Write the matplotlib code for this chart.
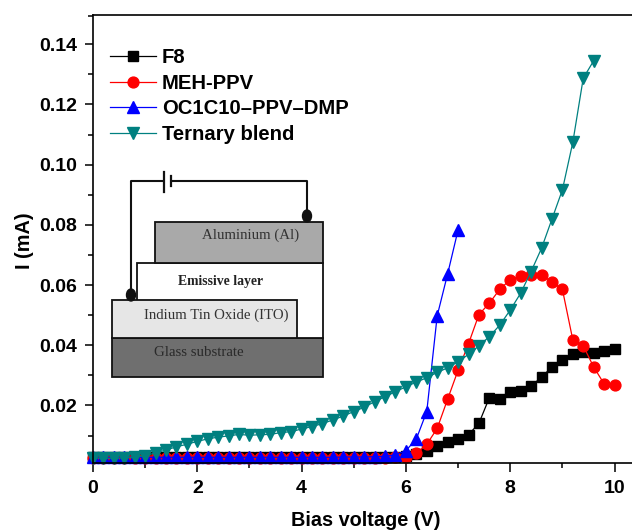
import matplotlib
matplotlib.use('Agg')
import matplotlib.pyplot as plt
from matplotlib.patches import Rectangle, Ellipse

plt.rcParams['font.family'] = ['Liberation Sans', 'DejaVu Sans']

voltage = [0.0, 0.2, 0.4, 0.6, 0.8, 1.0, 1.2, 1.4, 1.6, 1.8,
           2.0, 2.2, 2.4, 2.6, 2.8, 3.0, 3.2, 3.4, 3.6, 3.8,
           4.0, 4.2, 4.4, 4.6, 4.8, 5.0, 5.2, 5.4, 5.6, 5.8,
           6.0, 6.2, 6.4, 6.6, 6.8, 7.0, 7.2, 7.4, 7.6, 7.8,
           8.0, 8.2, 8.4, 8.6, 8.8, 9.0, 9.2, 9.4, 9.6, 9.8, 10.0]

f8 = [.0028, .0028, .0028, .0028, .0028, .0028, .0028, .0028, .0028, .0028,
      .0028, .0028, .0028, .0028, .0028, .0028, .0028, .0028, .0028, .0028,
      .0028, .0028, .0028, .0028, .0028, .0028, .0028, .0029, .0029, .0030,
      .0031, .0039, .0050, .0065, .0078, .0090, .0103, .0141, .0226, .0223,
      .0244, .0247, .0265, .0294, .0328, .0350, .0372, .0378, .0374, .0381, .0388]

meh_ppv = [.0025, .0025, .0025, .0025, .0025, .0025, .0025, .0025, .0025, .0025,
           .0025, .0025, .0025, .0025, .0025, .0025, .0025, .0025, .0025, .0025,
           .0025, .0025, .0025, .0025, .0025, .0025, .0025, .0026, .0026, .0028,
           .0030, .0041, .0071, .0124, .0221, .0317, .0405, .0502, .0540, .0586,
           .0618, .0630, .0634, .0634, .0610, .0586, .0418, .0398, .0328, .0272, .0269]

oc1c10 = [.0028, .0028, .0028, .0028, .0028, .0028, .0028, .0028, .0028, .0028,
          .0028, .0028, .0028, .0028, .0028, .0028, .0028, .0028, .0028, .0028,
          .0028, .0028, .0028, .0028, .0029, .0029, .0029, .0030, .0031, .0036,
          .0050, .0089, .0180, .0498, .0637, .0783]

ternary = [.0026, .0025, .0025, .0026, .0028, .0033, .0043, .0052, .0063, .0071,
           .0081, .0089, .0095, .0099, .0104, .0101, .0103, .0104, .0110, .0113,
           .0122, .0130, .0140, .0152, .0165, .0180, .0194, .0213, .0229, .0246,
           .0262, .0278, .0292, .0310, .0325, .0345, .0370, .0398, .0429, .0467,
           .0517, .0573, .0645, .0722, .0819, .0916, .1074, .1287, .1345]

xticks = [0, 2, 4, 6, 8, 10]
yticks = [0.02, 0.04, 0.06, 0.08, 0.10, 0.12, 0.14]
ytick_labels = ['0.02', '0.04', '0.06', '0.08', '0.10', '0.12', '0.14']

W, H = 632, 531
fig = plt.figure(figsize=(W / 100, H / 100), dpi=100)
ax = fig.add_axes([93 / W, 1 - 463 / H, (W - 93) / W, (463 - 15) / H])

ax.plot(voltage, f8, '-s', color='black', lw=0.9, ms=6.7, label='F8', clip_on=False)
ax.plot(voltage, meh_ppv, '-o', color='red', lw=0.9, ms=7.8, label='MEH-PPV', clip_on=False)
ax.plot(voltage[:len(oc1c10)], oc1c10, '-^', color='blue', lw=0.9, ms=8, label='OC1C10\u2013PPV\u2013DMP', clip_on=False)
ax.plot(voltage[:len(ternary)], ternary, '-v', color='#008080', lw=0.9, ms=8, label='Ternary blend', clip_on=False)

ax.set_xlim(0, 10.335)
ax.set_ylim(0.0009, 0.1497)
ax.set_xticks(xticks)
ax.set_xticks([1, 3, 5, 7, 9], minor=True)
ax.set_yticks(yticks)
ax.set_yticklabels(ytick_labels)
ax.set_yticks([0.01, 0.03, 0.05, 0.07, 0.09, 0.11, 0.13, 0.1495], minor=True)
ax.tick_params(axis='y', which='major', length=6, width=1.1, labelsize=14, pad=5.5)
ax.tick_params(axis='x', which='major', length=6.5, width=1.1, labelsize=14, pad=6)
ax.tick_params(which='minor', length=3.5, width=1.1)
for lab in ax.get_xticklabels() + ax.get_yticklabels():
    lab.set_fontweight('bold')

ax.spines['right'].set_visible(False)
for s in ['left', 'top', 'bottom']:
    ax.spines[s].set_linewidth(1.2)

ax.set_xlabel('Bias voltage (V)', fontsize=14.3, fontweight='bold')
ax.xaxis.set_label_coords((366 - 93) / (W - 93), (463 - 520) / 448, transform=ax.transAxes)
ax.xaxis.label.set_va('center')
ax.set_ylabel('I (mA)', fontsize=14.3, fontweight='bold')
ax.yaxis.set_label_coords((24 - 93) / (W - 93), (463 - 241) / 448, transform=ax.transAxes)
ax.yaxis.label.set_va('center')

ax.legend(loc='upper left', bbox_to_anchor=((110 - 93) / (W - 93), (463 - 48) / 448),
          frameon=False, borderpad=0, borderaxespad=0, handlelength=2.27,
          handletextpad=0.3, labelspacing=0.33,
          prop={'size': 14.6, 'weight': 'bold'})

# device sketch, laid out in picture pixels
sk = fig.add_axes([0, 0, 1, 1], facecolor='none')
sk.set_xlim(0, W)
sk.set_ylim(H, 0)
sk.axis('off')

layers = [
    (112, 338, 211, 39, '#6f6f6f'),
    (137, 263, 186, 75, 'white'),
    (112, 300, 185, 38, '#e6e6e6'),
    (155, 222, 168, 41, '#a9a9a9'),
]
for x0, y0, w, h, col in layers:
    sk.add_patch(Rectangle((x0, y0), w, h, fc=col, ec='#111111', lw=1.3))

sk.plot([131, 131, 163], [293, 181, 181], color='#111111', lw=1.5, solid_capstyle='butt')
sk.plot([171, 307, 307], [181, 181, 215], color='#111111', lw=1.5, solid_capstyle='butt')
sk.plot([164, 164], [172, 192], color='#111111', lw=1.6)
sk.plot([171, 171], [176, 186], color='#111111', lw=1.6)
sk.add_patch(Ellipse((131, 295), 9, 12, color='#111111'))
sk.add_patch(Ellipse((307, 216), 9, 12, color='#111111'))

serif = ['Liberation Serif', 'DejaVu Serif']
sk.text(251, 235, 'Aluminium (Al)', family=serif, fontsize=10.7, color='#333333', ha='center', va='center')
sk.text(220, 281, 'Emissive layer', family=serif, fontsize=9.9, fontweight='bold', color='#222222', ha='center', va='center')
sk.text(216, 315, 'Indium Tin Oxide (ITO)', family=serif, fontsize=10.7, color='#333333', ha='center', va='center')
sk.text(199, 353, 'Glass substrate', family=serif, fontsize=10.7, color='#2a2a2a', ha='center', va='center')

fig.savefig('out.png', dpi=100)
